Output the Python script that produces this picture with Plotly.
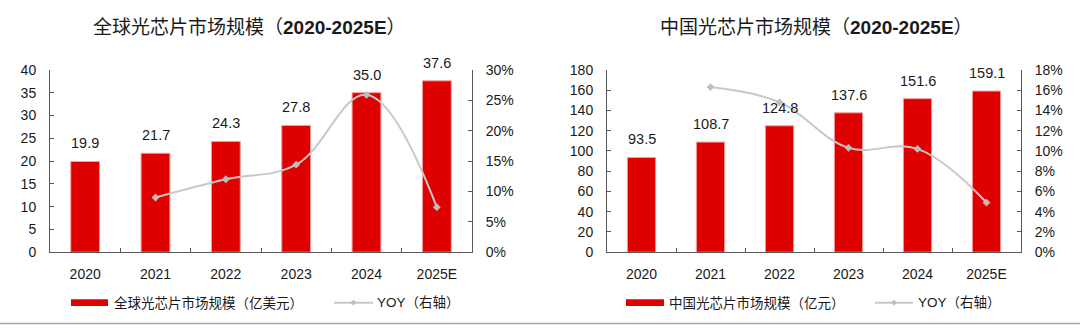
import plotly.graph_objects as go

years = ["2020", "2021", "2022", "2023", "2024", "2025E"]
global_size = [19.9, 21.7, 24.3, 27.8, 35.0, 37.6]
global_yoy = [None, 0.090, 0.120, 0.144, 0.259, 0.074]
china_size = [93.5, 108.7, 124.8, 137.6, 151.6, 159.1]
china_yoy = [None, 0.163, 0.148, 0.103, 0.102, 0.049]

title_left = "全球光芯片市场规模（<b>2020-2025E</b>）"
title_right = "中国光芯片市场规模（<b>2020-2025E</b>）"
legend_bar_left = "全球光芯片市场规模（亿美元）"
legend_bar_right = "中国光芯片市场规模（亿元）"
legend_line = "YOY（右轴）"

W, H = 1080, 333
FONT = "Liberation Sans, Arial, Noto Sans CJK SC"
RED = "#DF0000"
GRAY = "#C8C8C8"
TXT = "#1A1A1A"
AX = "#595959"

def px(x):
    return x / W

def py(y):
    return 1 - y / H

fig = go.Figure()

bar_style = dict(marker=dict(color=RED, line=dict(color="#F3A0A0", width=1)), width=0.41, showlegend=False,
                 hoverinfo="x+y")
line_style = dict(mode="lines+markers", line=dict(color=GRAY, width=2, shape="spline", smoothing=1.1),
                  marker=dict(color="#BEBEBE", size=6, symbol="diamond"), showlegend=False, connectgaps=False)

fig.add_trace(go.Bar(x=years, y=global_size, xaxis="x", yaxis="y", **bar_style))
fig.add_trace(go.Scatter(x=years, y=global_yoy, xaxis="x", yaxis="y2", **line_style))
fig.add_trace(go.Bar(x=years, y=china_size, xaxis="x2", yaxis="y3", **bar_style))
fig.add_trace(go.Scatter(x=years, y=china_yoy, xaxis="x2", yaxis="y4", **line_style))

annotations = []
for xa, ya, vals in (("x", "y", global_size), ("x2", "y3", china_size)):
    for i, v in enumerate(vals):
        annotations.append(dict(x=i, y=v, xref=xa, yref=ya, text=f"{v:.1f}", showarrow=False,
                                yanchor="bottom", yshift=8, font=dict(size=14.5, color=TXT, family=FONT)))

# titles
annotations.append(dict(x=px(249), y=py(21), xref="paper", yref="paper", text=title_left, showarrow=False,
                        xanchor="center", yanchor="middle", font=dict(size=19, color=TXT, family=FONT)))
annotations.append(dict(x=px(816), y=py(21), xref="paper", yref="paper", text=title_right, showarrow=False,
                        xanchor="center", yanchor="middle", font=dict(size=19, color=TXT, family=FONT)))

# custom legends
shapes = []
for (rx0, rx1, tx_bar, lbl_bar, lx0, lx1, tx_line) in (
        (71, 108, 112, legend_bar_left, 334, 373, 375),
        (626, 664, 667, legend_bar_right, 875, 913, 916)):
    shapes.append(dict(type="rect", xref="paper", yref="paper", x0=px(rx0), x1=px(rx1), y0=py(313), y1=py(306),
                       fillcolor=RED, line=dict(width=0)))
    shapes.append(dict(type="line", xref="paper", yref="paper", x0=px(lx0), x1=px(lx1), y0=py(309.5), y1=py(309.5),
                       line=dict(color=GRAY, width=2)))
    cx = (lx0 + lx1) / 2
    shapes.append(dict(type="path", xref="paper", yref="paper",
                       path=f"M {px(cx-3)},{py(309.5)} L {px(cx)},{py(306.5)} L {px(cx+3)},{py(309.5)} L {px(cx)},{py(312.5)} Z",
                       fillcolor="#BEBEBE", line=dict(width=0)))
    annotations.append(dict(x=px(tx_bar), y=py(309.5), xref="paper", yref="paper", text=lbl_bar, showarrow=False,
                            xanchor="left", yanchor="middle", font=dict(size=13.5, color=TXT, family=FONT)))
    annotations.append(dict(x=px(tx_line), y=py(309.5), xref="paper", yref="paper", text=legend_line, showarrow=False,
                            xanchor="left", yanchor="middle", font=dict(size=13.5, color=TXT, family=FONT)))

# bottom separator
shapes.append(dict(type="line", xref="paper", yref="paper", x0=0, x1=1, y0=py(331.5), y1=py(331.5),
                   line=dict(color="#A6A6A6", width=1.5)))

ydom = [py(256.5), py(65)]
tickfont = dict(size=14, color=TXT, family=FONT)
common_y = dict(showline=True, linecolor=AX, linewidth=1, ticks="inside", ticklen=4, tickcolor=AX,
                showgrid=False, zeroline=False, tickfont=tickfont, fixedrange=True, ticklabelstandoff=10)
common_x = dict(type="category", showline=True, linecolor=AX, linewidth=1, ticks="inside", ticklen=4,
                tickcolor=AX, tickson="boundaries", showgrid=False, tickfont=tickfont, fixedrange=True,
                range=[-0.5, len(years) - 0.5], autorange=False, ticklabelstandoff=9)

fig.update_layout(
    width=W, height=H, autosize=False,
    margin=dict(l=0, r=0, t=0, b=0),
    paper_bgcolor="white", plot_bgcolor="white",
    font=dict(family=FONT, color=TXT),
    xaxis=dict(domain=[px(50), px(472)], anchor="y", **common_x),
    yaxis=dict(domain=ydom, anchor="x", range=[0, 40], dtick=5, **common_y),
    yaxis2=dict(overlaying="y", side="right", anchor="x", range=[0, 0.30], dtick=0.05, tickformat=".0%",
                **common_y),
    xaxis2=dict(domain=[px(607), px(1021)], anchor="y3", **common_x),
    yaxis3=dict(domain=ydom, anchor="x2", range=[0, 180], dtick=20, **common_y),
    yaxis4=dict(overlaying="y3", side="right", anchor="x2", range=[0, 0.18], dtick=0.02, tickformat=".0%",
                **common_y),
    annotations=annotations,
    shapes=shapes,
)

fig.write_html("out.html")
